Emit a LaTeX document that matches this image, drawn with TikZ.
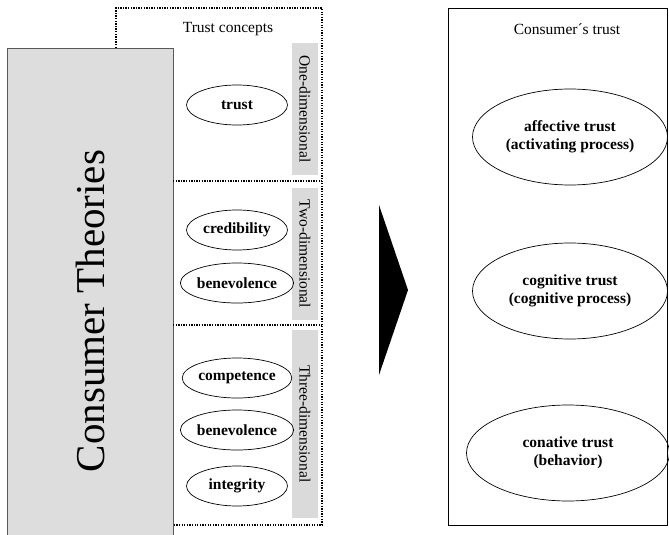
\documentclass[tikz,border=0pt]{standalone}
\usepackage{fontspec}
\setmainfont{Liberation Serif}
\usetikzlibrary{shapes.geometric}
\begin{document}
\begin{tikzpicture}[x=1pt,y=-1pt,
  concept/.style={ellipse,draw,line width=0.7pt,minimum width=101pt,minimum height=40pt,inner sep=0pt,
    font=\fontsize{15.5}{17}\selectfont\bfseries},
  facet/.style={ellipse,draw,line width=0.7pt,minimum width=195pt,minimum height=96pt,inner sep=0pt,
    align=center,font=\fontsize{15.5}{18}\selectfont\bfseries},
  dimlabel/.style={fill=labelgray,minimum height=26pt,inner sep=0pt,rotate=-90,
    font=\fontsize{15.5}{17}\selectfont},
  dotline/.style={line width=1.3pt,dash pattern=on 1.3pt off 1.3pt},
  heading/.style={font=\fontsize{15.5}{17}\selectfont}]
\definecolor{theorygray}{RGB}{221,221,221}
\definecolor{labelgray}{RGB}{218,218,218}
\useasboundingbox (0,0) rectangle (669,535);

% theory block
\fill[theorygray] (7,48) rectangle (173,545);
\draw[line width=0.9pt,draw=black!65] (7,545) -- (7,48) -- (173,48) -- (173,545);
\node[rotate=90,font=\fontsize{41}{44}\selectfont] (theories) at (90,311) {Consumer Theories};

% trust concept frame
\draw[dotline] (116,48) -- (116,8) -- (322,8) -- (322,525) -- (173,525);
\draw[dotline] (173,181) -- (322,181);
\draw[dotline] (173,325) -- (322,325);
\node[heading] (tc) at (228,29) {Trust concepts};

% dimension labels
\node[dimlabel,minimum width=132pt] (one) at (305,109) {One-dimensional};
\node[dimlabel,minimum width=132pt] (two) at (305,254) {Two-dimensional};
\node[dimlabel,minimum width=188pt] (three) at (305,424) {Three-dimensional};

% trust concepts
\node[concept] (trust) at (237,105) {trust};
\node[concept] (cred) at (237,230) {credibility};
\node[concept] (bene1) at (237,283) {benevolence};
\node[concept] (comp) at (237,378) {competence};
\node[concept] (bene2) at (237,430) {benevolence};
\node[concept] (integ) at (237,486) {integrity};

% transition arrow
\fill (379,205) -- (408,290) -- (379,375) -- cycle;

% consumer trust frame
\draw[line width=0.9pt] (448,8) rectangle (667,525);
\node[heading] (ct) at (567,29) {Consumer´s trust};
\node[facet] (aff) at (570,137) {affective trust\\(activating process)};
\node[facet] (cog) at (570,291) {cognitive trust\\(cognitive process)};
\node[facet,minimum width=203pt] (con) at (568,453) {conative trust\\(behavior)};
\end{tikzpicture}
\end{document}
